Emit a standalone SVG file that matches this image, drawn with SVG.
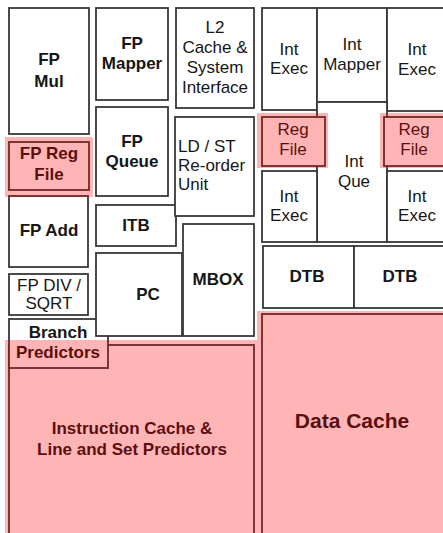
<svg xmlns="http://www.w3.org/2000/svg" width="443" height="533" viewBox="0 0 443 533">
  <style>
    .blk { fill: #ffffff; stroke: #383838; stroke-width: 1.8; }
    .hl { fill: #ff0000; fill-opacity: 0.29; stroke: none; }
    text { font-family: "Liberation Sans", Arial, sans-serif; font-size: 17px; fill: #161616; }
    .c { text-anchor: middle; }
    .b { font-weight: bold; }
    .big { font-size: 21px; font-weight: bold; }
  </style>
  <rect width="443" height="533" fill="#ffffff"/>

  <!-- floating-point cluster -->
  <g id="fp-mul">
    <rect class="blk" x="9" y="8" width="80" height="126"/>
    <text class="c b" x="49" y="65">FP</text>
    <text class="c b" x="49" y="87">Mul</text>
  </g>
  <g id="fp-mapper">
    <rect class="blk" x="96" y="8" width="72" height="92"/>
    <text class="c b" x="132" y="49">FP</text>
    <text class="c b" x="132" y="69">Mapper</text>
  </g>
  <g id="fp-queue">
    <rect class="blk" x="96" y="107" width="72" height="89"/>
    <text class="c b" x="132" y="147">FP</text>
    <text class="c b" x="132" y="167">Queue</text>
  </g>
  <g id="fp-reg-file">
    <rect class="blk" x="9" y="142" width="80" height="48"/>
    <text class="c b" x="49" y="159">FP Reg</text>
    <text class="c b" x="49" y="180">File</text>
  </g>
  <g id="fp-add">
    <rect class="blk" x="9" y="196" width="79" height="71"/>
    <text class="c b" x="49" y="236">FP Add</text>
  </g>
  <g id="fp-div-sqrt">
    <rect class="blk" x="9" y="274" width="79" height="41"/>
    <text class="c" x="49" y="291">FP DIV /</text>
    <text class="c" x="49" y="309">SQRT</text>
  </g>

  <!-- front end -->
  <g id="icache">
    <rect class="blk" x="9" y="345" width="245" height="200"/>
    <text class="c b" x="132" y="434">Instruction Cache &amp;</text>
    <text class="c b" x="132" y="455">Line and Set Predictors</text>
  </g>
  <g id="branch-predictors">
    <rect class="blk" x="9" y="319" width="99" height="49"/>
    <text class="c b" x="58" y="338">Branch</text>
    <text class="c b" x="58" y="358">Predictors</text>
  </g>
  <g id="itb">
    <rect class="blk" x="96" y="205" width="80" height="41"/>
    <text class="c b" x="136" y="231">ITB</text>
  </g>
  <g id="pc">
    <rect class="blk" x="96" y="253" width="86" height="83"/>
    <text class="c b" x="148" y="300">PC</text>
  </g>

  <!-- memory interface -->
  <g id="l2-cache">
    <rect class="blk" x="176" y="8" width="78" height="100"/>
    <text class="c" x="215" y="33">L2</text>
    <text class="c" x="215" y="53">Cache &amp;</text>
    <text class="c" x="215" y="73">System</text>
    <text class="c" x="215" y="93">Interface</text>
  </g>
  <g id="ld-st-unit">
    <rect class="blk" x="175" y="117" width="79" height="99"/>
    <text x="178" y="152">LD / ST</text>
    <text x="178" y="171">Re-order</text>
    <text x="178" y="190">Unit</text>
  </g>
  <g id="mbox">
    <rect class="blk" x="183" y="224" width="71" height="112"/>
    <text class="c b" x="218" y="285">MBOX</text>
  </g>

  <!-- integer cluster -->
  <g id="int-exec-1">
    <rect class="blk" x="262" y="8" width="55" height="102"/>
    <text class="c" x="289" y="55">Int</text>
    <text class="c" x="289" y="74">Exec</text>
  </g>
  <g id="int-mapper">
    <rect class="blk" x="317" y="8" width="70" height="94"/>
    <text class="c" x="352" y="50">Int</text>
    <text class="c" x="352" y="70">Mapper</text>
  </g>
  <g id="int-exec-2">
    <rect class="blk" x="387" y="8" width="60" height="103"/>
    <text class="c" x="417" y="55">Int</text>
    <text class="c" x="417" y="75">Exec</text>
  </g>
  <g id="int-que">
    <rect class="blk" x="317" y="102" width="70" height="140"/>
    <text class="c" x="354" y="167">Int</text>
    <text class="c" x="354" y="187">Que</text>
  </g>
  <g id="int-exec-3">
    <rect class="blk" x="262" y="171" width="55" height="71"/>
    <text class="c" x="289" y="202">Int</text>
    <text class="c" x="289" y="221">Exec</text>
  </g>
  <g id="int-exec-4">
    <rect class="blk" x="387" y="171" width="60" height="71"/>
    <text class="c" x="417" y="202">Int</text>
    <text class="c" x="417" y="221">Exec</text>
  </g>
  <g id="int-reg-file-1">
    <rect class="blk" x="262" y="117" width="63" height="49"/>
    <text class="c" x="293" y="135">Reg</text>
    <text class="c" x="293" y="155">File</text>
  </g>
  <g id="int-reg-file-2">
    <rect class="blk" x="384" y="117" width="62" height="49"/>
    <text class="c" x="414" y="135">Reg</text>
    <text class="c" x="414" y="155">File</text>
  </g>

  <!-- data side -->
  <g id="dtb-1">
    <rect class="blk" x="263" y="246" width="91" height="62"/>
    <text class="c b" x="307" y="282">DTB</text>
  </g>
  <g id="dtb-2">
    <rect class="blk" x="354" y="246" width="92" height="62"/>
    <text class="c b" x="400" y="282">DTB</text>
  </g>
  <g id="dcache">
    <rect class="blk" x="262" y="314" width="184" height="226"/>
    <text class="c big" x="352" y="428">Data Cache</text>
  </g>

  <!-- translucent highlight over the storage arrays -->
  <g id="highlights">
    <rect class="hl" x="5" y="137" width="88" height="60"/>
    <rect class="hl" x="257" y="113" width="71" height="55"/>
    <rect class="hl" x="380" y="113" width="63" height="55"/>
    <rect class="hl" x="257" y="311" width="186" height="222"/>
    <rect class="hl" x="5" y="340" width="252" height="193"/>
  </g>
</svg>
